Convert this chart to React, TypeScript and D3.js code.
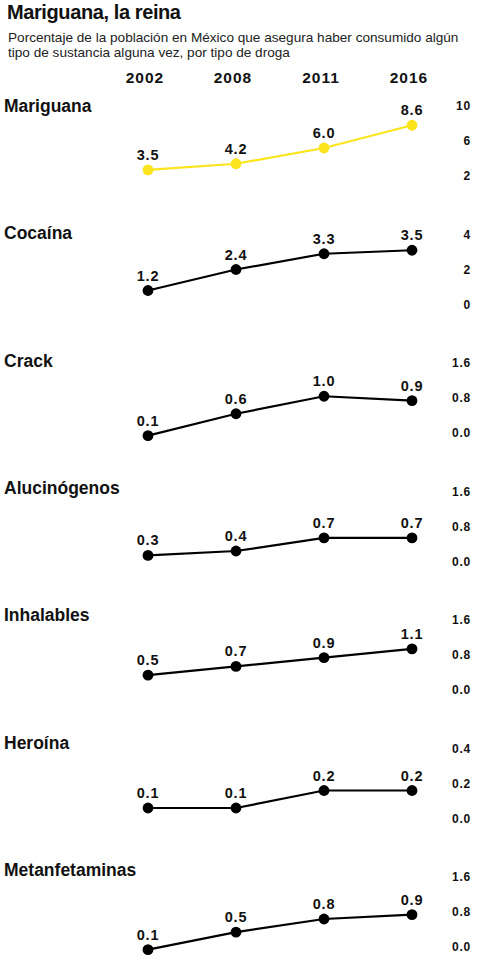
import { useEffect, useRef } from "react";
import * as d3 from "d3";

const years = ["2002", "2008", "2011", "2016"];

const drugs = ["Mariguana", "Cocaína", "Crack", "Alucinógenos", "Inhalables", "Heroína", "Metanfetaminas"];

const mariguana = [3.5, 4.2, 6.0, 8.6];
const cocaina = [1.2, 2.4, 3.3, 3.5];
const crack = [0.1, 0.6, 1.0, 0.9];
const alucinogenos = [0.3, 0.4, 0.7, 0.7];
const inhalables = [0.5, 0.7, 0.9, 1.1];
const heroina = [0.1, 0.1, 0.2, 0.2];
const metanfetaminas = [0.1, 0.5, 0.8, 0.9];

const seriesValues = [mariguana, cocaina, crack, alucinogenos, inhalables, heroina, metanfetaminas];

const tickLabels = [
    ["2", "6", "10"],
    ["0", "2", "4"],
    ["0.0", "0.8", "1.6"],
    ["0.0", "0.8", "1.6"],
    ["0.0", "0.8", "1.6"],
    ["0.0", "0.2", "0.4"],
    ["0.0", "0.8", "1.6"],
];

const FONT = "'Liberation Sans', Arial, sans-serif";

export default function App() {
    const ref = useRef(null);
    const width = 480;
    const height = 967;

    useEffect(() => {
        if (!ref.current) return;
        const svg = d3.select(ref.current);
        svg.selectAll("*").remove();

        svg.append("rect").attr("width", width).attr("height", height).attr("fill", "#fff");

        // headline
        svg.append("text")
            .attr("x", 7).attr("y", 19)
            .attr("font-family", FONT).attr("font-weight", "bold")
            .attr("font-size", 20).attr("letter-spacing", -0.4)
            .attr("fill", "#111")
            .text("Mariguana, la reina");

        const sub = svg.append("text")
            .attr("font-family", FONT).attr("font-size", 13.6)
            .attr("fill", "#222");
        sub.append("tspan").attr("x", 8).attr("y", 42)
            .text("Porcentaje de la población en México que asegura haber consumido algún");
        sub.append("tspan").attr("x", 8).attr("y", 57)
            .text("tipo de sustancia alguna vez, por tipo de droga");

        const x = d3.scalePoint<string>()
            .domain(years)
            .range([148, 412]);

        // year header
        svg.append("g")
            .selectAll("text")
            .data(years)
            .join("text")
            .attr("x", d => (x(d) as number) - 3)
            .attr("y", 83)
            .attr("text-anchor", "middle")
            .attr("font-family", FONT).attr("font-weight", "bold")
            .attr("font-size", 15.5).attr("letter-spacing", 1)
            .attr("fill", "#111")
            .text(d => d);

        drugs.forEach((name, i) => {
            const labelY = 112 + i * 127.33;
            const top = 113 + i * 128.5;
            const ticks = tickLabels[i].map(Number);
            const y = d3.scaleLinear()
                .domain([ticks[0], ticks[ticks.length - 1]])
                .range([top + 70, top]);

            const g = svg.append("g");
            const color = i === 0 ? "#fbe41c" : "#000";

            g.append("text")
                .attr("x", 4).attr("y", labelY)
                .attr("font-family", FONT).attr("font-weight", "bold")
                .attr("font-size", 17.5)
                .attr("fill", "#111")
                .text(name);

            // right axis labels
            g.selectAll("text.tick")
                .data(tickLabels[i])
                .join("text")
                .attr("class", "tick")
                .attr("x", 471)
                .attr("y", d => y(+d) - 3)
                .attr("text-anchor", "end")
                .attr("font-family", FONT).attr("font-weight", "bold")
                .attr("font-size", 12).attr("letter-spacing", 0.8)
                .attr("fill", "#111")
                .text(d => d);

            const pts = seriesValues[i].map((v, j) => ({ year: years[j], v }));

            const line = d3.line<{ year: string; v: number }>()
                .x(d => x(d.year) as number)
                .y(d => y(d.v));

            g.append("path")
                .attr("d", line(pts))
                .attr("fill", "none")
                .attr("stroke", color)
                .attr("stroke-width", 2.2);

            g.selectAll("circle")
                .data(pts)
                .join("circle")
                .attr("cx", d => x(d.year) as number)
                .attr("cy", d => y(d.v))
                .attr("r", 5.4)
                .attr("fill", color);

            g.selectAll("text.val")
                .data(pts)
                .join("text")
                .attr("class", "val")
                .attr("x", d => x(d.year) as number)
                .attr("y", d => y(d.v) - 10)
                .attr("text-anchor", "middle")
                .attr("font-family", FONT).attr("font-weight", "bold")
                .attr("font-size", 14.5).attr("letter-spacing", 0.8)
                .attr("fill", "#111")
                .text(d => d.v.toFixed(1));
        });
    }, []);

    return (
        <svg
            ref={ref}
            width={width}
            height={height}
            style={{ position: "absolute", left: 0, top: 0, display: "block" }} />
    );
}
